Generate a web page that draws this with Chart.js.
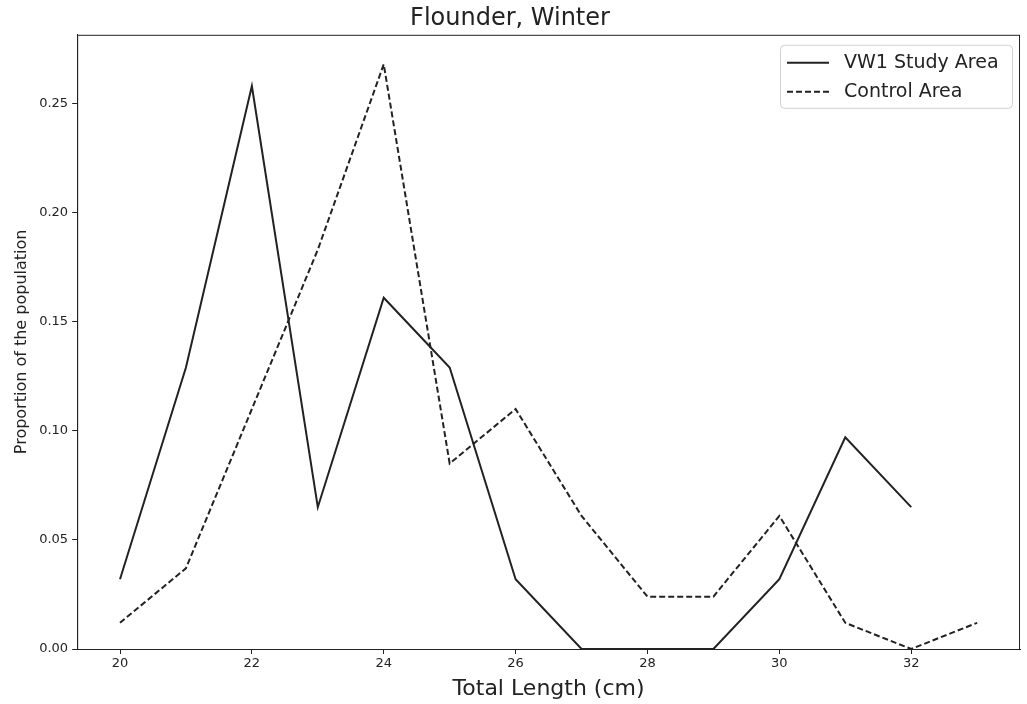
<!DOCTYPE html>
<html>
<head>
<meta charset="utf-8">
<script src="https://cdn.jsdelivr.net/npm/chart.js@4.4.1/dist/chart.umd.min.js"></script>
<style>
  html, body { margin: 0; padding: 0; background: #fff; }
  #wrap { width: 1027px; height: 704px; }
</style>
</head>
<body>
<div id="wrap"><canvas id="lineChart" width="1027" height="704"></canvas></div>
<script>
// total length (cm) bins
const lengths = [20, 21, 22, 23, 24, 25, 26, 27, 28, 29, 30, 31, 32, 33]
// proportion of the population
const studyArea = [0.032, 0.129, 0.258, 0.065, 0.161, 0.129, 0.032, 0, 0, 0, 0.032, 0.097, 0.065]
const controlArea = [0.012, 0.037, 0.110, 0.183, 0.268, 0.085, 0.110, 0.061, 0.024, 0.024, 0.061, 0.012, 0, 0.012]

const xTicks = [20, 22, 24, 26, 28, 30, 32]
const yTicks = [0, 0.05, 0.10, 0.15, 0.20, 0.25]

const ink = '#222'
const font = "'DejaVu Sans', sans-serif"

function toPoints(values) {
    let pts = []
    for (let i = 0; i < values.length; i++) {
        pts.push({ x: lengths[i], y: values[i] })
    }
    return pts
}

// top/right spines plus a matplotlib style legend inside the axes
const frameAndLegend = {
    id: 'frameAndLegend',
    afterDraw(chart) {
        const ctx = chart.ctx
        const a = chart.chartArea
        ctx.save()
        ctx.strokeStyle = ink
        ctx.lineWidth = 1
        ctx.strokeRect(a.left + 0.5, a.top + 0.5, a.right - a.left - 1, a.bottom - a.top)

        const boxW = 232, boxH = 63
        const bx = a.right - 8 - boxW
        const by = a.top + 10
        ctx.beginPath()
        ctx.roundRect(bx + 0.5, by + 0.5, boxW, boxH, 4)
        ctx.fillStyle = 'rgba(255,255,255,0.8)'
        ctx.fill()
        ctx.strokeStyle = '#d0d0d0'
        ctx.stroke()

        ctx.font = '19px ' + font
        ctx.textBaseline = 'middle'
        ctx.textAlign = 'left'
        chart.data.datasets.forEach((ds, i) => {
            const cy = by + 18 + i * 29
            ctx.beginPath()
            ctx.setLineDash(ds.borderDash || [])
            ctx.strokeStyle = ds.borderColor
            ctx.lineWidth = ds.borderWidth
            ctx.moveTo(bx + 7, cy)
            ctx.lineTo(bx + 49, cy)
            ctx.stroke()
            ctx.setLineDash([])
            ctx.fillStyle = ink
            ctx.fillText(ds.label, bx + 64, cy)
        })
        ctx.restore()
    }
}

const config = {
    type: 'line',
    data: {
        datasets: [{
            label: 'VW1 Study Area',
            data: toPoints(studyArea),
            borderColor: ink,
            borderWidth: 2,
            pointRadius: 0,
            tension: 0,
            fill: false
        }, {
            label: 'Control Area',
            data: toPoints(controlArea),
            borderColor: ink,
            borderWidth: 2,
            borderDash: [6, 3],
            pointRadius: 0,
            tension: 0,
            fill: false
        }]
    },
    options: {
        responsive: false,
        animation: false,
        layout: { padding: { left: 0, right: 7, top: 0, bottom: 0 } },
        plugins: {
            legend: { display: false },
            tooltip: { enabled: false },
            title: {
                display: true,
                text: 'Flounder, Winter',
                color: ink,
                font: { family: font, size: 24, weight: 'normal' },
                padding: { top: 4, bottom: 2 }
            }
        },
        scales: {
            x: {
                type: 'linear',
                min: 19.35,
                max: 33.65,
                afterBuildTicks: (scale) => { scale.ticks = xTicks.map(v => ({ value: v })) },
                ticks: {
                    color: ink,
                    font: { family: font, size: 13 },
                    padding: 2,
                    maxRotation: 0,
                    callback: (v) => String(v)
                },
                grid: { drawOnChartArea: false, drawTicks: true, tickLength: 5, color: ink },
                border: { color: ink, width: 1 },
                title: {
                    display: true,
                    text: 'Total Length (cm)',
                    color: ink,
                    font: { family: font, size: 22 },
                    padding: { top: 2, bottom: 2 }
                }
            },
            y: {
                type: 'linear',
                min: 0,
                max: 0.2815,
                afterBuildTicks: (scale) => { scale.ticks = yTicks.map(v => ({ value: v })) },
                ticks: {
                    color: ink,
                    font: { family: font, size: 13 },
                    padding: 4,
                    callback: (v) => Number(v).toFixed(2)
                },
                grid: { drawOnChartArea: false, drawTicks: true, tickLength: 5, color: ink },
                border: { color: ink, width: 1 },
                title: {
                    display: true,
                    text: 'Proportion of the population',
                    color: ink,
                    font: { family: font, size: 16 },
                    padding: { top: 12, bottom: 4 }
                }
            }
        }
    },
    plugins: [frameAndLegend]
}

new Chart(document.getElementById('lineChart'), config)
</script>
</body>
</html>
